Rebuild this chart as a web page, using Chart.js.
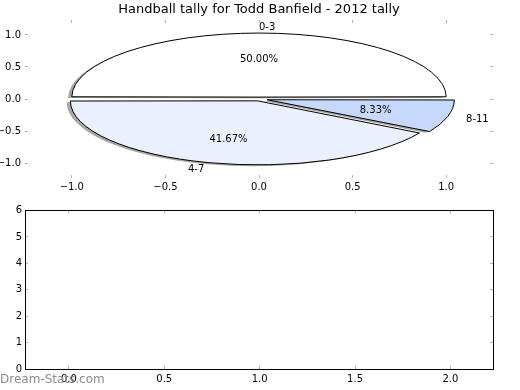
<!DOCTYPE html>
<html>
<head>
<meta charset="utf-8">
<script src="https://cdn.jsdelivr.net/npm/chart.js@4.4.0/dist/chart.umd.min.js"></script>
<style>
  body { margin: 0; background: #fff; }
  #wrap { position: relative; width: 520px; height: 390px; background: #fff; overflow: hidden; }
  canvas { position: absolute; left: 0; }
  #watermark { position: absolute; left: 0; top: 372px; font: 12px "DejaVu Sans"; color: #8c8c8c; white-space: nowrap; }
</style>
</head>
<body>
<div id="wrap">
  <canvas id="axesTop" width="520" height="200" style="top:0"></canvas>
  <canvas id="pie" width="520" height="200" style="top:0"></canvas>
  <canvas id="axesBottom" width="520" height="190" style="top:200px"></canvas>
  <div id="watermark">Dream-Stats.com</div>
</div>
<script>
const title = 'Handball tally for Todd Banfield - 2012 tally';
const categories = ['0-3', '4-7', '8-11'];
const tally = [6, 5, 1];

const pieXTicks = [-1.0, -0.5, 0.0, 0.5, 1.0];
const pieYTicks = [-1.0, -0.5, 0.0, 0.5, 1.0];
const lowerXTicks = [0.0, 0.5, 1.0, 1.5, 2.0];
const lowerYTicks = [0, 1, 2, 3, 4, 5, 6];

const sliceColors = ['#ffffff', '#eaf0fd', '#c6d9fd'];
const explode = [0.03, 0.03, 0.045];
const font = { family: 'DejaVu Sans', size: 10 };
const tickMark = '#b4b4b4';

const fmt = v => (v < 0 ? '\u2212' : '') + Math.abs(v).toFixed(1);

// little inside tick marks: dashed grid lines that only show near the frame edges
function edgeDash(len) {
  return [3, len - 6, 3, 2000];
}

const topChart = new Chart(document.getElementById('axesTop'), {
  type: 'scatter',
  data: { datasets: [] },
  options: {
    responsive: false,
    animation: false,
    layout: { padding: { right: 27 } },
    plugins: {
      legend: { display: false },
      tooltip: { enabled: false },
      title: {
        display: true,
        text: title,
        fullSize: false,
        color: '#000',
        font: { family: 'DejaVu Sans', size: 13, weight: 'normal' },
        padding: { top: 2, bottom: 2.4 }
      }
    },
    scales: {
      x: {
        type: 'linear', min: -1.25, max: 1.25,
        afterFit: s => { s.height = 22; },
        afterBuildTicks: s => { s.ticks = pieXTicks.map(v => ({ value: v })); },
        ticks: { color: '#000', font: font, padding: 3, autoSkip: false, maxRotation: 0, callback: fmt },
        grid: { color: tickMark, drawTicks: false },
        border: { display: false, dash: edgeDash(158) }
      },
      y: {
        type: 'linear', min: -1.234, max: 1.234,
        afterFit: s => { s.width = 25; },
        afterBuildTicks: s => { s.ticks = pieYTicks.map(v => ({ value: v })); },
        ticks: { color: '#000', font: font, padding: 4, autoSkip: false, callback: fmt },
        grid: { color: tickMark, drawTicks: false },
        border: { display: false, dash: edgeDash(468) }
      }
    }
  }
});

// pie sits on the top axes: centre and radii taken from its scales
const xs = topChart.scales.x, ys = topChart.scales.y;
const cx = xs.getPixelForValue(0), cy = ys.getPixelForValue(0);
const rx = xs.getPixelForValue(1) - cx;
const ry = cy - ys.getPixelForValue(1);
const total = tally.reduce((a, b) => a + b, 0);

const ellipse = {
  id: 'ellipse',
  beforeDatasetsDraw(chart) {
    const ctx = chart.ctx;
    const meta = chart.getDatasetMeta(0);
    // chart.js grows big slices by their offset, undo that so radius stays 1
    meta.data.forEach(a => {
      const fix = 1 - Math.sin(Math.min(Math.PI, a.circumference));
      a.outerRadius = rx - (a.options.offset / 4) * fix;
    });
    const base = ctx.getTransform();
    const fill = CanvasRenderingContext2D.prototype.fill;
    const stroke = CanvasRenderingContext2D.prototype.stroke;
    ctx.save();
    ctx.translate(cx, cy);
    ctx.scale(1, -ry / rx);
    ctx.translate(-cx, -cy);
    ctx.fill = function () {
      this.save();
      this.shadowColor = 'rgba(77,77,77,0.5)';
      this.shadowOffsetX = -0.02 * rx;
      this.shadowOffsetY = 0.02 * ry;
      fill.apply(this, arguments);
      this.restore();
    };
    ctx.stroke = function () {
      this.save();
      this.setTransform(base);
      stroke.apply(this, arguments);
      this.restore();
    };
  },
  afterDatasetsDraw(chart) {
    const ctx = chart.ctx;
    delete ctx.fill;
    delete ctx.stroke;
    ctx.restore();
    const meta = chart.getDatasetMeta(0);
    ctx.save();
    ctx.fillStyle = '#000';
    ctx.font = '10px "DejaVu Sans"';
    ctx.textBaseline = 'middle';
    meta.data.forEach((a, i) => {
      const mid = (a.startAngle + a.endAngle) / 2;
      const c = Math.cos(mid), s = Math.sin(mid);
      const e = explode[i];
      // category label
      let r = 1.1 + e;
      ctx.textAlign = c > 0 ? 'left' : 'right';
      ctx.fillText(categories[i], cx + c * r * rx, cy - s * r * ry + 1);
      // percentage
      r = 0.6 + e;
      ctx.textAlign = 'center';
      ctx.fillText((tally[i] / total * 100).toFixed(2) + '%', cx + c * r * rx, cy - s * r * ry + 1);
    });
    ctx.restore();
  }
};

new Chart(document.getElementById('pie'), {
  type: 'pie',
  data: {
    labels: categories,
    datasets: [{
      data: tally,
      backgroundColor: sliceColors,
      borderColor: '#000',
      borderWidth: 1,
      offset: explode.map(e => 4 * e * rx),
      hoverOffset: 0,
      clip: false
    }]
  },
  options: {
    responsive: false,
    animation: false,
    rotation: 90,
    radius: rx,
    layout: { padding: { left: 0, top: 0, right: 520 - 2 * cx, bottom: 200 - 2 * cy } },
    plugins: { legend: { display: false }, tooltip: { enabled: false } },
    events: []
  },
  plugins: [ellipse]
});

const frame = {
  id: 'frame',
  afterDraw(chart) {
    const { left, top, right, bottom } = chart.chartArea;
    const ctx = chart.ctx;
    ctx.save();
    ctx.strokeStyle = '#000';
    ctx.lineWidth = 1;
    ctx.strokeRect(Math.round(left) + 0.5, Math.floor(top) + 0.5, Math.round(right - left), Math.round(bottom - top));
    ctx.restore();
  }
};

new Chart(document.getElementById('axesBottom'), {
  type: 'scatter',
  data: { datasets: [] },
  options: {
    responsive: false,
    animation: false,
    layout: { padding: { top: 10.5, right: 27 } },
    plugins: { legend: { display: false }, tooltip: { enabled: false } },
    scales: {
      x: {
        type: 'linear', min: -0.23, max: 2.223,
        afterFit: s => { s.height = 21; },
        afterBuildTicks: s => { s.ticks = lowerXTicks.map(v => ({ value: v })); },
        ticks: { color: '#000', font: font, padding: 4, autoSkip: false, maxRotation: 0, callback: fmt },
        grid: { color: tickMark, drawTicks: false },
        border: { display: false, dash: edgeDash(158.5) }
      },
      y: {
        type: 'linear', min: 0, max: 6,
        afterFit: s => { s.width = 25; },
        afterBuildTicks: s => { s.ticks = lowerYTicks.map(v => ({ value: v })); },
        ticks: { color: '#000', font: font, padding: 3, autoSkip: false, callback: v => String(v) },
        grid: { color: tickMark, drawTicks: false },
        border: { display: false, dash: edgeDash(468) }
      }
    }
  },
  plugins: [frame]
});
</script>
</body>
</html>
